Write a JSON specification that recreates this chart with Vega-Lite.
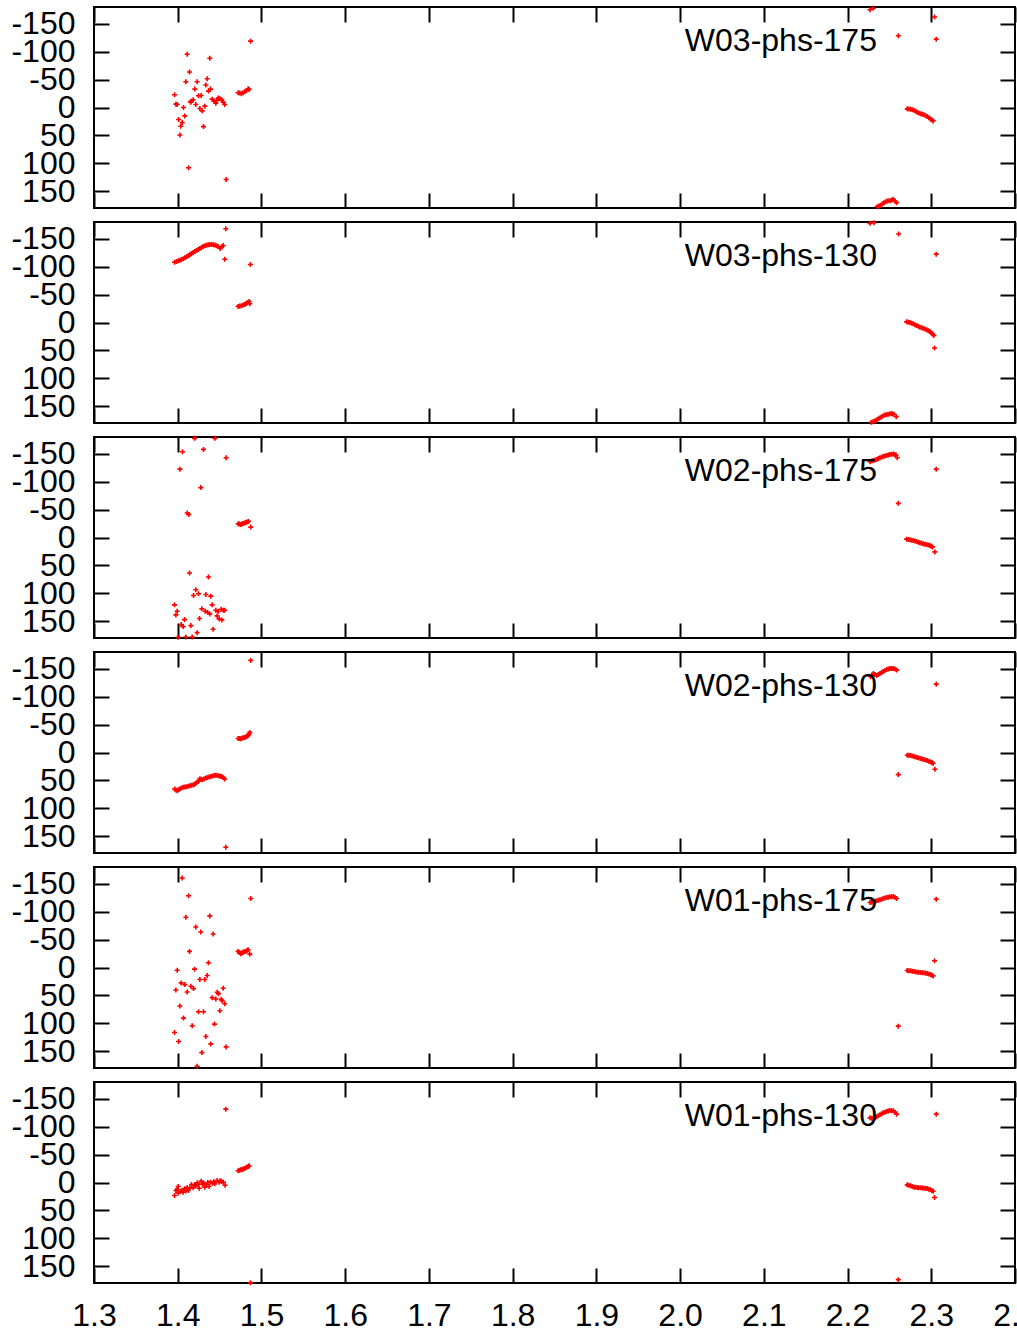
{
"$schema": "https://vega.github.io/schema/vega-lite/v6.json",
"background": "white",
"padding": {"left": 9, "top": 1, "right": -20, "bottom": 0},
"spacing": 14,
"bounds": "flush",
"config": {
  "view": {"stroke": "black", "strokeWidth": 2},
  "axis": {"domain": false, "grid": false, "tickColor": "black", "tickWidth": 2, "tickSize": -15, "labelFont": "Liberation Sans", "labelFontSize": 32, "labelColor": "black", "title": null, "labelFlush": false, "labelOverlap": false, "labelPadding": 34}
},
"datasets": {"pts": [
{"p":1,"x":1.487,"y":-118.8},{"p":1,"x":1.4113,"y":-95.4},{"p":1,"x":1.4383,"y":-88.2},{"p":1,"x":1.4141,"y":-63.6},{"p":1,"x":1.4097,"y":-46.2},{"p":1,"x":1.4232,"y":-46.2},{"p":1,"x":1.4352,"y":-51.6},{"p":1,"x":1.4204,"y":-33},{"p":1,"x":1.4336,"y":-40.2},{"p":1,"x":1.4391,"y":-33},{"p":1,"x":1.4367,"y":-29.4},{"p":1,"x":1.3962,"y":-22.8},{"p":1,"x":1.4248,"y":-21},{"p":1,"x":1.428,"y":-21.6},{"p":1,"x":1.3978,"y":-6},{"p":1,"x":1.3994,"y":-5.4},{"p":1,"x":1.4161,"y":-11.4},{"p":1,"x":1.4185,"y":-13.8},{"p":1,"x":1.4153,"y":-9.6},{"p":1,"x":1.4216,"y":-5.4},{"p":1,"x":1.4069,"y":0},{"p":1,"x":1.4324,"y":-2.4},{"p":1,"x":1.4264,"y":1.8},{"p":1,"x":1.4292,"y":6},{"p":1,"x":1.4085,"y":15},{"p":1,"x":1.401,"y":21.6},{"p":1,"x":1.4053,"y":27},{"p":1,"x":1.4037,"y":33.6},{"p":1,"x":1.4026,"y":49.2},{"p":1,"x":1.4308,"y":34.2},{"p":1,"x":1.4129,"y":108},{"p":1,"x":1.4578,"y":129},{"p":1,"x":1.4411,"y":-15},{"p":1,"x":1.4435,"y":-11.4},{"p":1,"x":1.4455,"y":-7.8},{"p":1,"x":1.4483,"y":-16.8},{"p":1,"x":1.4503,"y":-15.6},{"p":1,"x":1.4527,"y":-13.8},{"p":1,"x":1.4543,"y":-9.6},{"p":1,"x":1.4562,"y":-5.4},{"p":1,"x":1.4467,"y":-12.6},{"p":1,"x":1.4721,"y":-26.4},{"p":1,"x":1.4741,"y":-25.8},{"p":1,"x":1.4761,"y":-24.6},{"p":1,"x":1.4781,"y":-26.4},{"p":1,"x":1.4801,"y":-28.2},{"p":1,"x":1.4821,"y":-30.6},{"p":1,"x":1.4841,"y":-33.6},{"p":1,"x":1.4853,"y":-32.4},
{"p":1,"x":2.2268,"y":-175.2},{"p":1,"x":2.2308,"y":-177.6},{"p":1,"x":2.3039,"y":-162},{"p":1,"x":2.2606,"y":-128.4},{"p":1,"x":2.3059,"y":-122.4},
{"p":1,"x":2.2713,"y":2.4},{"p":1,"x":2.2733,"y":2.7},{"p":1,"x":2.2753,"y":3},{"p":1,"x":2.2773,"y":3.9},{"p":1,"x":2.2793,"y":4.8},{"p":1,"x":2.2812,"y":6.6},{"p":1,"x":2.2832,"y":8.4},{"p":1,"x":2.2852,"y":9.9},{"p":1,"x":2.2872,"y":11.4},{"p":1,"x":2.2892,"y":12.3},{"p":1,"x":2.2912,"y":13.2},{"p":1,"x":2.2932,"y":14.7},{"p":1,"x":2.2952,"y":16.2},{"p":1,"x":2.2972,"y":18.3},{"p":1,"x":2.2991,"y":20.4},{"p":1,"x":2.3007,"y":22.2},{"p":1,"x":2.3023,"y":24},
{"p":1,"x":2.2355,"y":177.6},{"p":1,"x":2.2375,"y":176.4},{"p":1,"x":2.2395,"y":175.2},{"p":1,"x":2.2415,"y":172.8},{"p":1,"x":2.2435,"y":170.4},{"p":1,"x":2.2455,"y":168.9},{"p":1,"x":2.2475,"y":167.4},{"p":1,"x":2.2495,"y":167.1},{"p":1,"x":2.2514,"y":166.8},{"p":1,"x":2.253,"y":165.6},{"p":1,"x":2.2546,"y":164.4},{"p":1,"x":2.2566,"y":167.4},{"p":1,"x":2.2586,"y":170.4},

{"p":2,"x":1.3962,"y":-108},{"p":2,"x":1.3984,"y":-109.2},{"p":2,"x":1.4006,"y":-110.4},{"p":2,"x":1.4026,"y":-111.6},{"p":2,"x":1.4045,"y":-112.8},{"p":2,"x":1.4065,"y":-114.3},{"p":2,"x":1.4085,"y":-115.8},{"p":2,"x":1.4105,"y":-117.6},{"p":2,"x":1.4125,"y":-119.4},{"p":2,"x":1.4145,"y":-121.5},{"p":2,"x":1.4165,"y":-123.6},{"p":2,"x":1.4185,"y":-125.4},{"p":2,"x":1.4204,"y":-127.2},{"p":2,"x":1.4224,"y":-129},{"p":2,"x":1.4244,"y":-130.8},{"p":2,"x":1.4264,"y":-132.6},{"p":2,"x":1.4284,"y":-134.4},{"p":2,"x":1.4304,"y":-135.9},{"p":2,"x":1.4324,"y":-137.4},{"p":2,"x":1.4344,"y":-138.3},{"p":2,"x":1.4363,"y":-139.2},{"p":2,"x":1.4383,"y":-139.5},{"p":2,"x":1.4403,"y":-139.8},{"p":2,"x":1.4423,"y":-139.2},{"p":2,"x":1.4443,"y":-138.6},{"p":2,"x":1.4463,"y":-137.4},{"p":2,"x":1.4483,"y":-136.2},{"p":2,"x":1.4507,"y":-132.6},{"p":2,"x":1.4527,"y":-135.6},{"p":2,"x":1.4543,"y":-138},
{"p":2,"x":1.4574,"y":-168},{"p":2,"x":1.4562,"y":-113.4},{"p":2,"x":1.4868,"y":-103.8},
{"p":2,"x":1.4721,"y":-28.8},{"p":2,"x":1.4741,"y":-29.4},{"p":2,"x":1.4761,"y":-30},{"p":2,"x":1.4781,"y":-31.2},{"p":2,"x":1.4801,"y":-32.4},{"p":2,"x":1.4817,"y":-33.9},{"p":2,"x":1.4833,"y":-35.4},{"p":2,"x":1.4853,"y":-37.8},{"p":2,"x":1.4861,"y":-33.6},
{"p":2,"x":2.2268,"y":-177.6},{"p":2,"x":2.2316,"y":-178.8},{"p":2,"x":2.261,"y":-158.4},{"p":2,"x":2.3059,"y":-122.4},{"p":2,"x":2.3039,"y":45.6},
{"p":2,"x":2.2705,"y":-1.2},{"p":2,"x":2.2725,"y":-0.6},{"p":2,"x":2.2745,"y":0},{"p":2,"x":2.2765,"y":1.2},{"p":2,"x":2.2785,"y":2.4},{"p":2,"x":2.2804,"y":3.9},{"p":2,"x":2.2824,"y":5.4},{"p":2,"x":2.2844,"y":6.9},{"p":2,"x":2.2864,"y":8.4},{"p":2,"x":2.2884,"y":9.3},{"p":2,"x":2.2904,"y":10.2},{"p":2,"x":2.2924,"y":11.7},{"p":2,"x":2.2944,"y":13.2},{"p":2,"x":2.2964,"y":14.7},{"p":2,"x":2.2984,"y":16.2},{"p":2,"x":2.3,"y":18.3},{"p":2,"x":2.3015,"y":20.4},{"p":2,"x":2.3031,"y":23.4},
{"p":2,"x":2.2284,"y":178.8},{"p":2,"x":2.2304,"y":177.6},{"p":2,"x":2.2324,"y":176.4},{"p":2,"x":2.2344,"y":174.6},{"p":2,"x":2.2363,"y":172.8},{"p":2,"x":2.2383,"y":171},{"p":2,"x":2.2403,"y":169.2},{"p":2,"x":2.2423,"y":167.4},{"p":2,"x":2.2443,"y":165.6},{"p":2,"x":2.2463,"y":165},{"p":2,"x":2.2483,"y":164.4},{"p":2,"x":2.2503,"y":163.8},{"p":2,"x":2.2522,"y":163.2},{"p":2,"x":2.2538,"y":163.8},{"p":2,"x":2.2554,"y":164.4},{"p":2,"x":2.2582,"y":168.6},

{"p":3,"x":1.4201,"y":-177.6},{"p":3,"x":1.4443,"y":-177.6},{"p":3,"x":1.4057,"y":-153.6},{"p":3,"x":1.4308,"y":-157.8},{"p":3,"x":1.4578,"y":-142.8},{"p":3,"x":1.4026,"y":-122.4},{"p":3,"x":1.4276,"y":-89.4},{"p":3,"x":1.4113,"y":-43.8},{"p":3,"x":1.4133,"y":-41.4},
{"p":3,"x":1.4721,"y":-24.6},{"p":3,"x":1.4737,"y":-24},{"p":3,"x":1.4753,"y":-23.4},{"p":3,"x":1.4767,"y":-24.3},{"p":3,"x":1.4781,"y":-25.2},{"p":3,"x":1.4797,"y":-26.1},{"p":3,"x":1.4813,"y":-27},{"p":3,"x":1.4829,"y":-27.9},{"p":3,"x":1.4845,"y":-28.8},{"p":3,"x":1.4872,"y":-18.6},
{"p":3,"x":1.4141,"y":63.6},{"p":3,"x":1.4367,"y":70.8},{"p":3,"x":1.4216,"y":93.6},{"p":3,"x":1.4189,"y":103.8},{"p":3,"x":1.4248,"y":100.8},{"p":3,"x":1.4336,"y":102},{"p":3,"x":1.4395,"y":105},{"p":3,"x":1.3962,"y":120.6},{"p":3,"x":1.3994,"y":132},{"p":3,"x":1.3978,"y":138.6},{"p":3,"x":1.4288,"y":127.8},{"p":3,"x":1.4328,"y":132},{"p":3,"x":1.4356,"y":133.8},{"p":3,"x":1.4383,"y":136.8},{"p":3,"x":1.4411,"y":120.6},{"p":3,"x":1.4455,"y":130.2},{"p":3,"x":1.4483,"y":132.6},{"p":3,"x":1.4519,"y":128.4},{"p":3,"x":1.4543,"y":130.2},{"p":3,"x":1.4562,"y":130.2},{"p":3,"x":1.4471,"y":140.4},{"p":3,"x":1.4495,"y":145.8},{"p":3,"x":1.4527,"y":147.6},{"p":3,"x":1.4081,"y":147},{"p":3,"x":1.426,"y":145.2},{"p":3,"x":1.4041,"y":156},{"p":3,"x":1.4065,"y":159.6},{"p":3,"x":1.4157,"y":157.8},{"p":3,"x":1.4423,"y":164.4},{"p":3,"x":1.4232,"y":170.4},{"p":3,"x":1.4002,"y":178.8},{"p":3,"x":1.4097,"y":178.2},{"p":3,"x":1.4173,"y":178.2},
{"p":3,"x":2.2268,"y":-135.6},{"p":3,"x":2.2288,"y":-136.8},{"p":3,"x":2.2308,"y":-138},{"p":3,"x":2.2328,"y":-138.9},{"p":3,"x":2.2347,"y":-139.8},{"p":3,"x":2.2367,"y":-141.3},{"p":3,"x":2.2387,"y":-142.8},{"p":3,"x":2.2407,"y":-144},{"p":3,"x":2.2427,"y":-145.2},{"p":3,"x":2.2447,"y":-146.1},{"p":3,"x":2.2467,"y":-147},{"p":3,"x":2.2487,"y":-147.9},{"p":3,"x":2.2506,"y":-148.8},{"p":3,"x":2.2526,"y":-149.1},{"p":3,"x":2.2546,"y":-149.4},{"p":3,"x":2.2562,"y":-148.8},{"p":3,"x":2.2578,"y":-147.6},{"p":3,"x":2.2594,"y":-142.8},
{"p":3,"x":2.3059,"y":-122.4},{"p":3,"x":2.2606,"y":-61.2},
{"p":3,"x":2.2705,"y":3},{"p":3,"x":2.2725,"y":3.6},{"p":3,"x":2.2745,"y":4.2},{"p":3,"x":2.2765,"y":4.8},{"p":3,"x":2.2785,"y":5.4},{"p":3,"x":2.2804,"y":6.3},{"p":3,"x":2.2824,"y":7.2},{"p":3,"x":2.2844,"y":8.4},{"p":3,"x":2.2864,"y":9.6},{"p":3,"x":2.2884,"y":10.5},{"p":3,"x":2.2904,"y":11.4},{"p":3,"x":2.2924,"y":12},{"p":3,"x":2.2944,"y":12.6},{"p":3,"x":2.2964,"y":13.5},{"p":3,"x":2.2984,"y":14.4},{"p":3,"x":2.3,"y":15.6},{"p":3,"x":2.3015,"y":16.8},{"p":3,"x":2.3043,"y":25.8},

{"p":4,"x":1.4872,"y":-165},
{"p":4,"x":1.4721,"y":-25.2},{"p":4,"x":1.4737,"y":-24.9},{"p":4,"x":1.4753,"y":-24.6},{"p":4,"x":1.4767,"y":-25.5},{"p":4,"x":1.4781,"y":-26.4},{"p":4,"x":1.4797,"y":-27},{"p":4,"x":1.4813,"y":-27.6},{"p":4,"x":1.4827,"y":-29.1},{"p":4,"x":1.4841,"y":-30.6},{"p":4,"x":1.4851,"y":-33},{"p":4,"x":1.4861,"y":-36},
{"p":4,"x":1.3962,"y":65.4},{"p":4,"x":1.3978,"y":67},{"p":4,"x":1.3994,"y":68.4},{"p":4,"x":1.401,"y":66.6},{"p":4,"x":1.4026,"y":64.8},{"p":4,"x":1.4045,"y":63.6},{"p":4,"x":1.4065,"y":62.4},{"p":4,"x":1.4085,"y":61.8},{"p":4,"x":1.4105,"y":61.2},{"p":4,"x":1.4125,"y":60.3},{"p":4,"x":1.4145,"y":59.4},{"p":4,"x":1.4165,"y":58.8},{"p":4,"x":1.4185,"y":58.2},{"p":4,"x":1.42,"y":56.7},{"p":4,"x":1.4216,"y":55.2},{"p":4,"x":1.4232,"y":53.4},{"p":4,"x":1.4248,"y":51.6},{"p":4,"x":1.4264,"y":46.8},{"p":4,"x":1.428,"y":47.7},{"p":4,"x":1.4296,"y":48.6},{"p":4,"x":1.4316,"y":47.1},{"p":4,"x":1.4336,"y":45.6},{"p":4,"x":1.4356,"y":44.7},{"p":4,"x":1.4375,"y":43.8},{"p":4,"x":1.4395,"y":42.9},{"p":4,"x":1.4415,"y":42},{"p":4,"x":1.4435,"y":41.4},{"p":4,"x":1.4455,"y":40.8},{"p":4,"x":1.4475,"y":41.4},{"p":4,"x":1.4495,"y":42},{"p":4,"x":1.4511,"y":42.6},{"p":4,"x":1.4527,"y":43.2},{"p":4,"x":1.4545,"y":45},{"p":4,"x":1.4562,"y":47.4},
{"p":4,"x":1.4574,"y":169.8},
{"p":4,"x":2.2276,"y":-135.6},{"p":4,"x":2.2292,"y":-138.6},{"p":4,"x":2.2308,"y":-141.6},{"p":4,"x":2.2328,"y":-139.8},{"p":4,"x":2.2347,"y":-138},{"p":4,"x":2.2367,"y":-139.8},{"p":4,"x":2.2387,"y":-141.6},{"p":4,"x":2.2407,"y":-143.4},{"p":4,"x":2.2427,"y":-145.2},{"p":4,"x":2.2447,"y":-147},{"p":4,"x":2.2467,"y":-148.8},{"p":4,"x":2.2487,"y":-149.7},{"p":4,"x":2.2506,"y":-150.6},{"p":4,"x":2.2526,"y":-150.6},{"p":4,"x":2.2546,"y":-150.6},{"p":4,"x":2.2566,"y":-149.4},{"p":4,"x":2.2586,"y":-147.6},
{"p":4,"x":2.3059,"y":-122.4},
{"p":4,"x":2.2713,"y":4.8},{"p":4,"x":2.2733,"y":5.1},{"p":4,"x":2.2753,"y":5.4},{"p":4,"x":2.2773,"y":6.3},{"p":4,"x":2.2793,"y":7.2},{"p":4,"x":2.2812,"y":8.1},{"p":4,"x":2.2832,"y":9},{"p":4,"x":2.2852,"y":9.9},{"p":4,"x":2.2872,"y":10.8},{"p":4,"x":2.2892,"y":11.7},{"p":4,"x":2.2912,"y":12.6},{"p":4,"x":2.2932,"y":13.5},{"p":4,"x":2.2952,"y":14.4},{"p":4,"x":2.2972,"y":15.6},{"p":4,"x":2.2991,"y":16.8},{"p":4,"x":2.3007,"y":18},{"p":4,"x":2.3023,"y":19.2},
{"p":4,"x":2.3043,"y":30},{"p":4,"x":2.2606,"y":39.6},

{"p":5,"x":1.4053,"y":-160.2},{"p":5,"x":1.4129,"y":-128.4},{"p":5,"x":1.4872,"y":-123.6},{"p":5,"x":1.4097,"y":-90},{"p":5,"x":1.4383,"y":-92.4},{"p":5,"x":1.4216,"y":-72.6},{"p":5,"x":1.4276,"y":-63.6},{"p":5,"x":1.4423,"y":-60},{"p":5,"x":1.4141,"y":-28.8},
{"p":5,"x":1.4721,"y":-28.8},{"p":5,"x":1.4737,"y":-26.7},{"p":5,"x":1.4753,"y":-24.6},{"p":5,"x":1.4767,"y":-26.1},{"p":5,"x":1.4781,"y":-27.6},{"p":5,"x":1.4797,"y":-28.2},{"p":5,"x":1.4813,"y":-28.8},{"p":5,"x":1.4827,"y":-30.3},{"p":5,"x":1.4841,"y":-31.8},{"p":5,"x":1.4861,"y":-24},
{"p":5,"x":1.4367,"y":-8.4},{"p":5,"x":1.3994,"y":4.8},{"p":5,"x":1.4201,"y":3},{"p":5,"x":1.4352,"y":14.4},{"p":5,"x":1.4264,"y":21.6},{"p":5,"x":1.4324,"y":21.6},{"p":5,"x":1.4041,"y":27.6},{"p":5,"x":1.4085,"y":30.6},{"p":5,"x":1.4157,"y":33.6},{"p":5,"x":1.4189,"y":37.8},{"p":5,"x":1.3978,"y":40.2},{"p":5,"x":1.4113,"y":43.8},{"p":5,"x":1.4543,"y":37.2},{"p":5,"x":1.4471,"y":44.4},{"p":5,"x":1.4487,"y":46.8},{"p":5,"x":1.4411,"y":54},{"p":5,"x":1.4455,"y":56.4},{"p":5,"x":1.4519,"y":57},{"p":5,"x":1.4531,"y":59.4},{"p":5,"x":1.4562,"y":64.8},{"p":5,"x":1.4026,"y":69},{"p":5,"x":1.4503,"y":77.4},{"p":5,"x":1.4248,"y":79.2},{"p":5,"x":1.4308,"y":79.2},{"p":5,"x":1.4069,"y":90.6},{"p":5,"x":1.4439,"y":101.4},{"p":5,"x":1.4173,"y":104.4},{"p":5,"x":1.3962,"y":116.4},{"p":5,"x":1.4336,"y":123.6},{"p":5,"x":1.401,"y":132.6},{"p":5,"x":1.4395,"y":136.8},{"p":5,"x":1.4578,"y":142.2},{"p":5,"x":1.4288,"y":152.4},{"p":5,"x":1.4232,"y":177},
{"p":5,"x":2.2268,"y":-116.4},{"p":5,"x":2.2288,"y":-117},{"p":5,"x":2.2308,"y":-117.6},{"p":5,"x":2.2328,"y":-118.5},{"p":5,"x":2.2347,"y":-119.4},{"p":5,"x":2.2367,"y":-120.3},{"p":5,"x":2.2387,"y":-121.2},{"p":5,"x":2.2407,"y":-122.4},{"p":5,"x":2.2427,"y":-123.6},{"p":5,"x":2.2447,"y":-124.5},{"p":5,"x":2.2467,"y":-125.4},{"p":5,"x":2.2487,"y":-126},{"p":5,"x":2.2506,"y":-126.6},{"p":5,"x":2.2526,"y":-126.9},{"p":5,"x":2.2546,"y":-127.2},{"p":5,"x":2.2566,"y":-126},{"p":5,"x":2.2586,"y":-123.6},
{"p":5,"x":2.3059,"y":-122.4},{"p":5,"x":2.3039,"y":-12},
{"p":5,"x":2.2713,"y":5.4},{"p":5,"x":2.2733,"y":5.7},{"p":5,"x":2.2753,"y":6},{"p":5,"x":2.2773,"y":6.6},{"p":5,"x":2.2793,"y":7.2},{"p":5,"x":2.2812,"y":7.8},{"p":5,"x":2.2832,"y":8.4},{"p":5,"x":2.2852,"y":8.7},{"p":5,"x":2.2872,"y":9},{"p":5,"x":2.2892,"y":9.3},{"p":5,"x":2.2912,"y":9.6},{"p":5,"x":2.2932,"y":10.2},{"p":5,"x":2.2952,"y":10.8},{"p":5,"x":2.2972,"y":11.7},{"p":5,"x":2.2991,"y":12.6},{"p":5,"x":2.3007,"y":13.8},{"p":5,"x":2.3023,"y":15},
{"p":5,"x":2.2606,"y":105},

{"p":6,"x":1.4574,"y":-131.4},
{"p":6,"x":1.4721,"y":-21},{"p":6,"x":1.4737,"y":-21.9},{"p":6,"x":1.4753,"y":-22.8},{"p":6,"x":1.4767,"y":-23.4},{"p":6,"x":1.4781,"y":-24},{"p":6,"x":1.4797,"y":-25.2},{"p":6,"x":1.4813,"y":-26.4},{"p":6,"x":1.4829,"y":-27.6},{"p":6,"x":1.4845,"y":-28.8},{"p":6,"x":1.4853,"y":-30},
{"p":6,"x":1.3962,"y":23.4},{"p":6,"x":1.3978,"y":14.4},{"p":6,"x":1.4006,"y":7.2},{"p":6,"x":1.4006,"y":18.6},{"p":6,"x":1.4034,"y":16.2},{"p":6,"x":1.4065,"y":17.4},{"p":6,"x":1.4097,"y":15},{"p":6,"x":1.4125,"y":14.4},{"p":6,"x":1.4145,"y":9.6},{"p":6,"x":1.4165,"y":3.6},{"p":6,"x":1.4185,"y":9.6},{"p":6,"x":1.4216,"y":6},{"p":6,"x":1.4232,"y":0.6},{"p":6,"x":1.4256,"y":10.2},{"p":6,"x":1.428,"y":-2.4},{"p":6,"x":1.4296,"y":3.6},{"p":6,"x":1.4324,"y":8.4},{"p":6,"x":1.4344,"y":3.6},{"p":6,"x":1.4375,"y":7.2},{"p":6,"x":1.4391,"y":-0.6},{"p":6,"x":1.4415,"y":1.2},{"p":6,"x":1.4443,"y":2.4},{"p":6,"x":1.4471,"y":-3.6},{"p":6,"x":1.4495,"y":-0.6},{"p":6,"x":1.4523,"y":-1.8},{"p":6,"x":1.4543,"y":-0.6},{"p":6,"x":1.4566,"y":4.8},{"p":6,"x":1.3994,"y":12},{"p":6,"x":1.405,"y":13.8},{"p":6,"x":1.4081,"y":11.4},{"p":6,"x":1.4113,"y":9},{"p":6,"x":1.4201,"y":4.2},{"p":6,"x":1.4248,"y":3},{"p":6,"x":1.4312,"y":1.2},{"p":6,"x":1.4359,"y":0},{"p":6,"x":1.4431,"y":-1.2},{"p":6,"x":1.4507,"y":-3},
{"p":6,"x":1.4868,"y":179.4},
{"p":6,"x":2.2268,"y":-115.8},{"p":6,"x":2.2288,"y":-115.2},{"p":6,"x":2.2308,"y":-114.6},{"p":6,"x":2.2328,"y":-116.1},{"p":6,"x":2.2347,"y":-117.6},{"p":6,"x":2.2367,"y":-119.4},{"p":6,"x":2.2387,"y":-121.2},{"p":6,"x":2.2407,"y":-123},{"p":6,"x":2.2427,"y":-124.8},{"p":6,"x":2.2447,"y":-126},{"p":6,"x":2.2467,"y":-127.2},{"p":6,"x":2.2487,"y":-128.1},{"p":6,"x":2.2506,"y":-129},{"p":6,"x":2.2526,"y":-128.7},{"p":6,"x":2.2546,"y":-128.4},{"p":6,"x":2.2566,"y":-126},{"p":6,"x":2.2586,"y":-122.4},
{"p":6,"x":2.3059,"y":-122.4},
{"p":6,"x":2.2713,"y":4.2},{"p":6,"x":2.2733,"y":5.1},{"p":6,"x":2.2753,"y":6},{"p":6,"x":2.2773,"y":7.2},{"p":6,"x":2.2793,"y":8.4},{"p":6,"x":2.2812,"y":8.7},{"p":6,"x":2.2832,"y":9},{"p":6,"x":2.2852,"y":9.3},{"p":6,"x":2.2872,"y":9.6},{"p":6,"x":2.2892,"y":9.9},{"p":6,"x":2.2912,"y":10.2},{"p":6,"x":2.2932,"y":10.5},{"p":6,"x":2.2952,"y":10.8},{"p":6,"x":2.2972,"y":12},{"p":6,"x":2.2991,"y":13.2},{"p":6,"x":2.3007,"y":14.4},{"p":6,"x":2.3023,"y":15.6},
{"p":6,"x":2.3039,"y":27},{"p":6,"x":2.2606,"y":174}
]},
"vconcat": [
{"width": 921, "height": 201, "layer": [
 {"data": {"name": "pts"}, "transform": [{"filter": "datum.p == 1"}],
  "mark": {"type": "point", "shape": "M-1,0H1M0,-1V1", "filled": false, "stroke": "#ff0000", "strokeWidth": 1.6, "size": 25, "opacity": 1},
  "encoding": {
   "x": {"field": "x", "type": "quantitative", "scale": {"domain": [1.3, 2.4], "nice": false, "zero": false}, "axis": {"orient": "bottom", "values": [1.3,1.4,1.5,1.6,1.7,1.8,1.9,2.0,2.1,2.2,2.3,2.4], "labels": false}},
   "y": {"field": "y", "type": "quantitative", "scale": {"domain": [-180, 180], "reverse": true, "nice": false, "zero": false}, "axis": {"orient": "left", "values": [-150,-100,-50,0,50,100,150], "labelExpr": "'' + datum.value"}}}},
 {"data": {"values": [{}]},
  "mark": {"type": "text", "align": "right", "baseline": "middle", "font": "Liberation Sans", "fontSize": 32, "color": "black"},
  "encoding": {
   "x": {"datum": 2.2351, "type": "quantitative", "axis": {"orient": "top", "values": [1.3,1.4,1.5,1.6,1.7,1.8,1.9,2.0,2.1,2.2,2.3,2.4], "labels": false}},
   "y": {"datum": -120, "type": "quantitative", "axis": {"orient": "right", "values": [-150,-100,-50,0,50,100,150], "labels": false}},
   "text": {"value": "W03-phs-175"}}}
]},
{"width": 921, "height": 201, "layer": [
 {"data": {"name": "pts"}, "transform": [{"filter": "datum.p == 2"}],
  "mark": {"type": "point", "shape": "M-1,0H1M0,-1V1", "filled": false, "stroke": "#ff0000", "strokeWidth": 1.6, "size": 25, "opacity": 1},
  "encoding": {
   "x": {"field": "x", "type": "quantitative", "scale": {"domain": [1.3, 2.4], "nice": false, "zero": false}, "axis": {"orient": "bottom", "values": [1.3,1.4,1.5,1.6,1.7,1.8,1.9,2.0,2.1,2.2,2.3,2.4], "labels": false}},
   "y": {"field": "y", "type": "quantitative", "scale": {"domain": [-180, 180], "reverse": true, "nice": false, "zero": false}, "axis": {"orient": "left", "values": [-150,-100,-50,0,50,100,150], "labelExpr": "'' + datum.value"}}}},
 {"data": {"values": [{}]},
  "mark": {"type": "text", "align": "right", "baseline": "middle", "font": "Liberation Sans", "fontSize": 32, "color": "black"},
  "encoding": {
   "x": {"datum": 2.2351, "type": "quantitative", "axis": {"orient": "top", "values": [1.3,1.4,1.5,1.6,1.7,1.8,1.9,2.0,2.1,2.2,2.3,2.4], "labels": false}},
   "y": {"datum": -120, "type": "quantitative", "axis": {"orient": "right", "values": [-150,-100,-50,0,50,100,150], "labels": false}},
   "text": {"value": "W03-phs-130"}}}
]},
{"width": 921, "height": 201, "layer": [
 {"data": {"name": "pts"}, "transform": [{"filter": "datum.p == 3"}],
  "mark": {"type": "point", "shape": "M-1,0H1M0,-1V1", "filled": false, "stroke": "#ff0000", "strokeWidth": 1.6, "size": 25, "opacity": 1},
  "encoding": {
   "x": {"field": "x", "type": "quantitative", "scale": {"domain": [1.3, 2.4], "nice": false, "zero": false}, "axis": {"orient": "bottom", "values": [1.3,1.4,1.5,1.6,1.7,1.8,1.9,2.0,2.1,2.2,2.3,2.4], "labels": false}},
   "y": {"field": "y", "type": "quantitative", "scale": {"domain": [-180, 180], "reverse": true, "nice": false, "zero": false}, "axis": {"orient": "left", "values": [-150,-100,-50,0,50,100,150], "labelExpr": "'' + datum.value"}}}},
 {"data": {"values": [{}]},
  "mark": {"type": "text", "align": "right", "baseline": "middle", "font": "Liberation Sans", "fontSize": 32, "color": "black"},
  "encoding": {
   "x": {"datum": 2.2351, "type": "quantitative", "axis": {"orient": "top", "values": [1.3,1.4,1.5,1.6,1.7,1.8,1.9,2.0,2.1,2.2,2.3,2.4], "labels": false}},
   "y": {"datum": -120, "type": "quantitative", "axis": {"orient": "right", "values": [-150,-100,-50,0,50,100,150], "labels": false}},
   "text": {"value": "W02-phs-175"}}}
]},
{"width": 921, "height": 201, "layer": [
 {"data": {"name": "pts"}, "transform": [{"filter": "datum.p == 4"}],
  "mark": {"type": "point", "shape": "M-1,0H1M0,-1V1", "filled": false, "stroke": "#ff0000", "strokeWidth": 1.6, "size": 25, "opacity": 1},
  "encoding": {
   "x": {"field": "x", "type": "quantitative", "scale": {"domain": [1.3, 2.4], "nice": false, "zero": false}, "axis": {"orient": "bottom", "values": [1.3,1.4,1.5,1.6,1.7,1.8,1.9,2.0,2.1,2.2,2.3,2.4], "labels": false}},
   "y": {"field": "y", "type": "quantitative", "scale": {"domain": [-180, 180], "reverse": true, "nice": false, "zero": false}, "axis": {"orient": "left", "values": [-150,-100,-50,0,50,100,150], "labelExpr": "'' + datum.value"}}}},
 {"data": {"values": [{}]},
  "mark": {"type": "text", "align": "right", "baseline": "middle", "font": "Liberation Sans", "fontSize": 32, "color": "black"},
  "encoding": {
   "x": {"datum": 2.2351, "type": "quantitative", "axis": {"orient": "top", "values": [1.3,1.4,1.5,1.6,1.7,1.8,1.9,2.0,2.1,2.2,2.3,2.4], "labels": false}},
   "y": {"datum": -120, "type": "quantitative", "axis": {"orient": "right", "values": [-150,-100,-50,0,50,100,150], "labels": false}},
   "text": {"value": "W02-phs-130"}}}
]},
{"width": 921, "height": 201, "layer": [
 {"data": {"name": "pts"}, "transform": [{"filter": "datum.p == 5"}],
  "mark": {"type": "point", "shape": "M-1,0H1M0,-1V1", "filled": false, "stroke": "#ff0000", "strokeWidth": 1.6, "size": 25, "opacity": 1},
  "encoding": {
   "x": {"field": "x", "type": "quantitative", "scale": {"domain": [1.3, 2.4], "nice": false, "zero": false}, "axis": {"orient": "bottom", "values": [1.3,1.4,1.5,1.6,1.7,1.8,1.9,2.0,2.1,2.2,2.3,2.4], "labels": false}},
   "y": {"field": "y", "type": "quantitative", "scale": {"domain": [-180, 180], "reverse": true, "nice": false, "zero": false}, "axis": {"orient": "left", "values": [-150,-100,-50,0,50,100,150], "labelExpr": "'' + datum.value"}}}},
 {"data": {"values": [{}]},
  "mark": {"type": "text", "align": "right", "baseline": "middle", "font": "Liberation Sans", "fontSize": 32, "color": "black"},
  "encoding": {
   "x": {"datum": 2.2351, "type": "quantitative", "axis": {"orient": "top", "values": [1.3,1.4,1.5,1.6,1.7,1.8,1.9,2.0,2.1,2.2,2.3,2.4], "labels": false}},
   "y": {"datum": -120, "type": "quantitative", "axis": {"orient": "right", "values": [-150,-100,-50,0,50,100,150], "labels": false}},
   "text": {"value": "W01-phs-175"}}}
]},
{"width": 921, "height": 201, "layer": [
 {"data": {"name": "pts"}, "transform": [{"filter": "datum.p == 6"}],
  "mark": {"type": "point", "shape": "M-1,0H1M0,-1V1", "filled": false, "stroke": "#ff0000", "strokeWidth": 1.6, "size": 25, "opacity": 1},
  "encoding": {
   "x": {"field": "x", "type": "quantitative", "scale": {"domain": [1.3, 2.4], "nice": false, "zero": false}, "axis": {"orient": "bottom", "values": [1.3,1.4,1.5,1.6,1.7,1.8,1.9,2.0,2.1,2.2,2.3,2.4], "labels": true, "labelPadding": 32, "labelExpr": "format(datum.value, '.1f')"}},
   "y": {"field": "y", "type": "quantitative", "scale": {"domain": [-180, 180], "reverse": true, "nice": false, "zero": false}, "axis": {"orient": "left", "values": [-150,-100,-50,0,50,100,150], "labelExpr": "'' + datum.value"}}}},
 {"data": {"values": [{}]},
  "mark": {"type": "text", "align": "right", "baseline": "middle", "font": "Liberation Sans", "fontSize": 32, "color": "black"},
  "encoding": {
   "x": {"datum": 2.2351, "type": "quantitative", "axis": {"orient": "top", "values": [1.3,1.4,1.5,1.6,1.7,1.8,1.9,2.0,2.1,2.2,2.3,2.4], "labels": false}},
   "y": {"datum": -120, "type": "quantitative", "axis": {"orient": "right", "values": [-150,-100,-50,0,50,100,150], "labels": false}},
   "text": {"value": "W01-phs-130"}}}
]}
]
}
